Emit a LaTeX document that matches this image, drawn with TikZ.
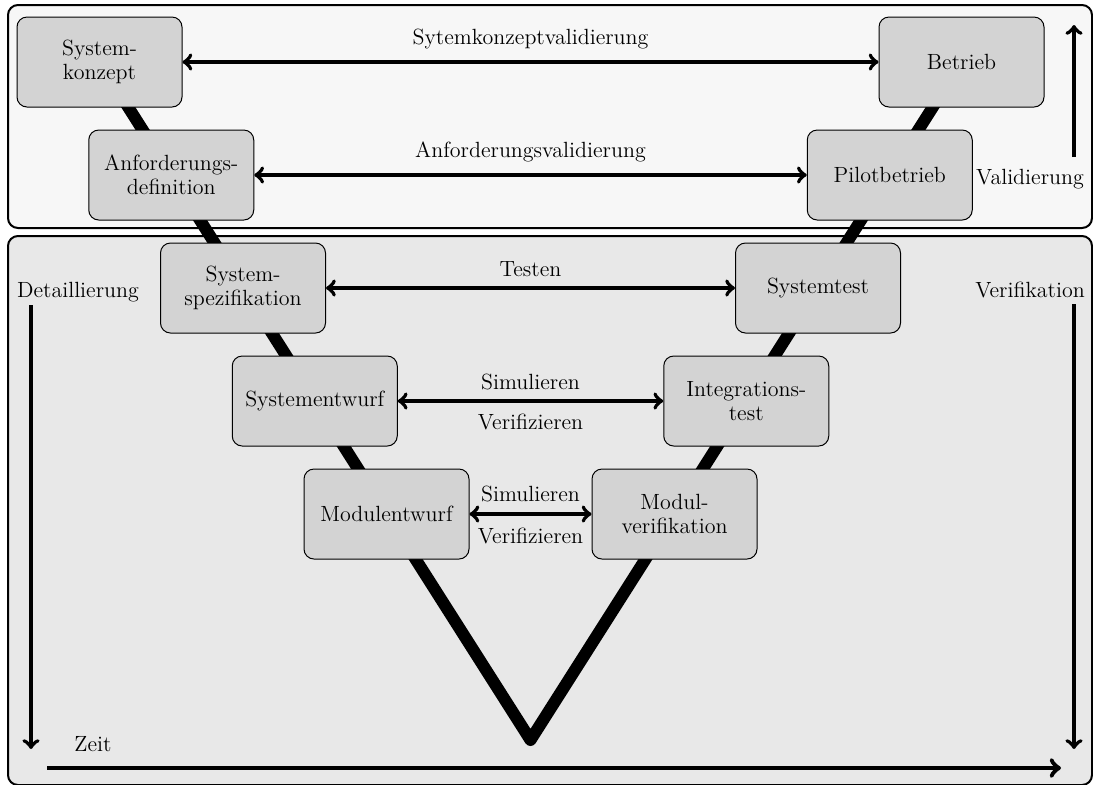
\documentclass[tikz,border=0pt]{standalone}
\definecolor{framelight}{HTML}{F7F7F7}
\definecolor{framemid}{HTML}{E8E8E8}
\definecolor{boxgray}{HTML}{D3D3D3}
\begin{document}
\begin{tikzpicture}[x=0.5pt,y=-0.5pt,
  every node/.style={font=\fontsize{11}{12}\selectfont},
  frame/.style={draw, line width=1pt, rounded corners=5pt},
  phase/.style={draw, line width=0.5pt, fill=boxgray, rounded corners=5pt,
    minimum width=82.5pt, minimum height=45pt, align=center, inner sep=2pt},
  vline/.style={line width=6pt, line join=round, line cap=round},
  link/.style={<->, line width=2pt},
  axisarrow/.style={->, line width=2pt},
  lbl/.style={anchor=base, inner sep=0pt}
]
\useasboundingbox (0,0) rectangle (1093,784);

% background frames: validation (top) and verification (bottom)
\draw[frame, fill=framelight] (8,5) rectangle (1092,228);
\draw[frame, fill=framemid] (8,236) rectangle (1092,785);

% lowest point of the V
\coordinate (vtip) at (530.5,740);

% the V
\draw[vline] (99.5,62) -- (vtip) -- (961.5,62);

% left branch
\node[phase] (sk) at (99.5,62)   {System-\\konzept};
\node[phase] (ad) at (171.25,175) {Anforderungs-\\definition};
\node[phase] (ss) at (243,288)   {System-\\spezifikation};
\node[phase] (se) at (314.75,401) {Systementwurf};
\node[phase] (me) at (386.5,514) {Modulentwurf};
% right branch
\node[phase] (be) at (961.5,62)  {Betrieb};
\node[phase] (pb) at (889.75,175) {Pilotbetrieb};
\node[phase] (st) at (818,288)   {Systemtest};
\node[phase] (it) at (746.25,401) {Integrations-\\test};
\node[phase] (mv) at (674.5,514) {Modul-\\verifikation};

% links between corresponding phases
\draw[link] (sk) -- (be) node[midway, lbl, yshift=9pt] {Sytemkonzeptvalidierung};
\draw[link] (ad) -- (pb) node[midway, lbl, yshift=9pt] {Anforderungsvalidierung};
\draw[link] (ss) -- (st) node[midway, lbl, yshift=6pt] {Testen};
\draw[link] (se) -- (it)
  node[midway, lbl, yshift=6pt] {Simulieren}
  node[midway, lbl, yshift=-14pt] {Verifizieren};
\draw[link] (me) -- (mv)
  node[midway, lbl, yshift=6.5pt] {Simulieren}
  node[midway, lbl, yshift=-14.5pt] {Verifizieren};

% axes
\node[lbl] (val) at (1030,184) {Validierung};
\coordinate (valA) at (1074,157);
\coordinate (valB) at (1074,25);
\draw[axisarrow] (valA) -- (valB);

\node[lbl] (ver) at (1030,297) {Verifikation};
\coordinate (verA) at (1074,304);
\coordinate (verB) at (1074,749);
\draw[axisarrow] (verA) -- (verB);

\node[lbl] (det) at (78,297) {Detaillierung};
\coordinate (detA) at (31,305);
\coordinate (detB) at (31,749);
\draw[axisarrow] (detA) -- (detB);

\node[lbl] (zeit) at (93,751) {Zeit};
\coordinate (zeitA) at (47,768);
\coordinate (zeitB) at (1061,768);
\draw[axisarrow, line width=2.4pt] (zeitA) -- (zeitB);
\end{tikzpicture}
\end{document}
